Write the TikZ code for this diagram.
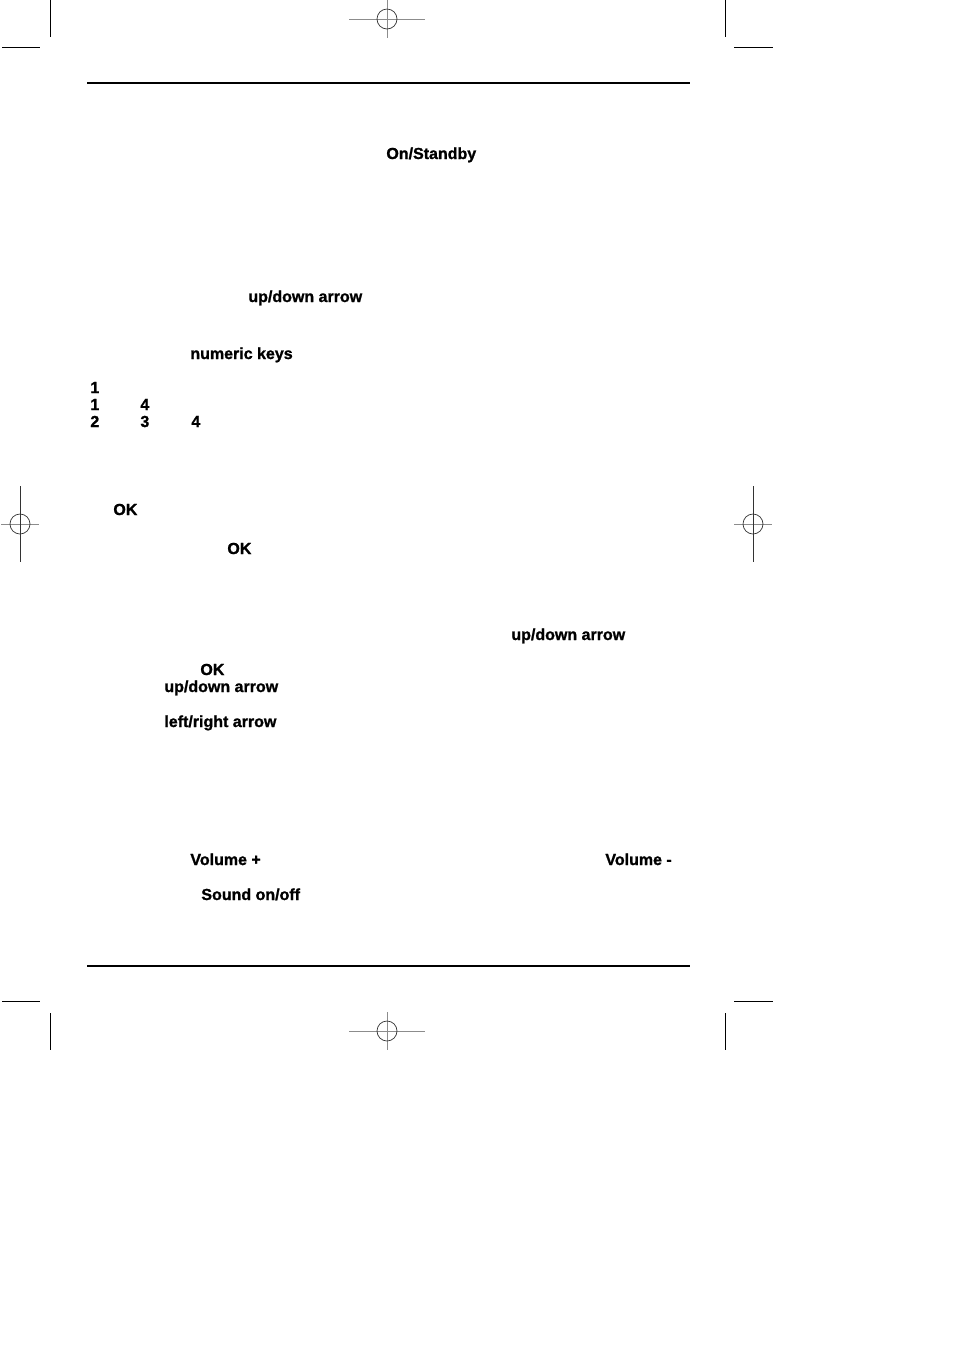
\documentclass[tikz,border=0pt]{standalone}
\usepackage{fontspec}
\setmainfont{Liberation Sans}[BoldFeatures={FakeBold=1.2}]

\begin{document}
\begin{tikzpicture}[x=0.5pt, y=-0.5pt,
key/.style={font=\fontsize{8}{9}\selectfont\bfseries, inner sep=0pt, anchor=base west},
crop/.style={line width=0.5pt},
rule/.style={line width=0.6pt},
regline/.style={line width=0.4pt, black!45},
regcircle/.style={line width=0.35pt, black!80}]

\useasboundingbox (0,0) rectangle (954,1351);

% crop marks
\draw [crop] (50,0) -- (50,37);
\draw [crop] (2,47) -- (40,47);
\draw [crop] (725,0) -- (725,37);
\draw [crop] (734,47) -- (773,47);
\draw [crop] (50,1013) -- (50,1050);
\draw [crop] (2,1001) -- (40,1001);
\draw [crop] (725,1013) -- (725,1050);
\draw [crop] (734,1001) -- (773,1001);

% registration marks, top and bottom
\foreach \cx/\cy in {387/19, 387/1031} {
  \draw [regline] (\cx-38,\cy) -- (\cx+38,\cy);
  \draw [regline] (\cx,\cy-19) -- (\cx,\cy+19);
  \draw [regcircle] (\cx,\cy) circle (10);
}
% registration marks, left and right
\foreach \cx/\cy in {20/524, 753/524} {
  \draw [regline] (\cx-19,\cy) -- (\cx+19,\cy);
  \draw [regline, black!80] (\cx,\cy-38) -- (\cx,\cy+38);
  \draw [regcircle] (\cx,\cy) circle (10);
}

% header and footer rules
\draw [rule] (87,83) -- (690,83);
\draw [rule] (87,966) -- (690,966);

% key names
\node [key] (standby) at (386,159) {On/Standby};
\node [key] (updown1) at (248,302) {up/down arrow};
\node [key] (numeric) at (190,359) {numeric keys};

\node [key] (dA) at (90,393) {1};
\node [key] (dB) at (90,410) {1};
\node [key] (dC) at (140,410) {4};
\node [key] (dD) at (90,427) {2};
\node [key] (dE) at (140,427) {3};
\node [key] (dF) at (191,427) {4};

\node [key] (okA) at (113,515) {OK};
\node [key] (okB) at (227,554) {OK};

\node [key] (updown2) at (511,640) {up/down arrow};
\node [key] (okC) at (200,675) {OK};
\node [key] (updown3) at (164,692) {up/down arrow};
\node [key] (leftright) at (164,727) {left/right arrow};

\node [key] (volup) at (190,865) {Volume +};
\node [key] (voldown) at (605,865) {Volume -};
\node [key] (mute) at (201,900) {Sound on/off};

\end{tikzpicture}
\end{document}
